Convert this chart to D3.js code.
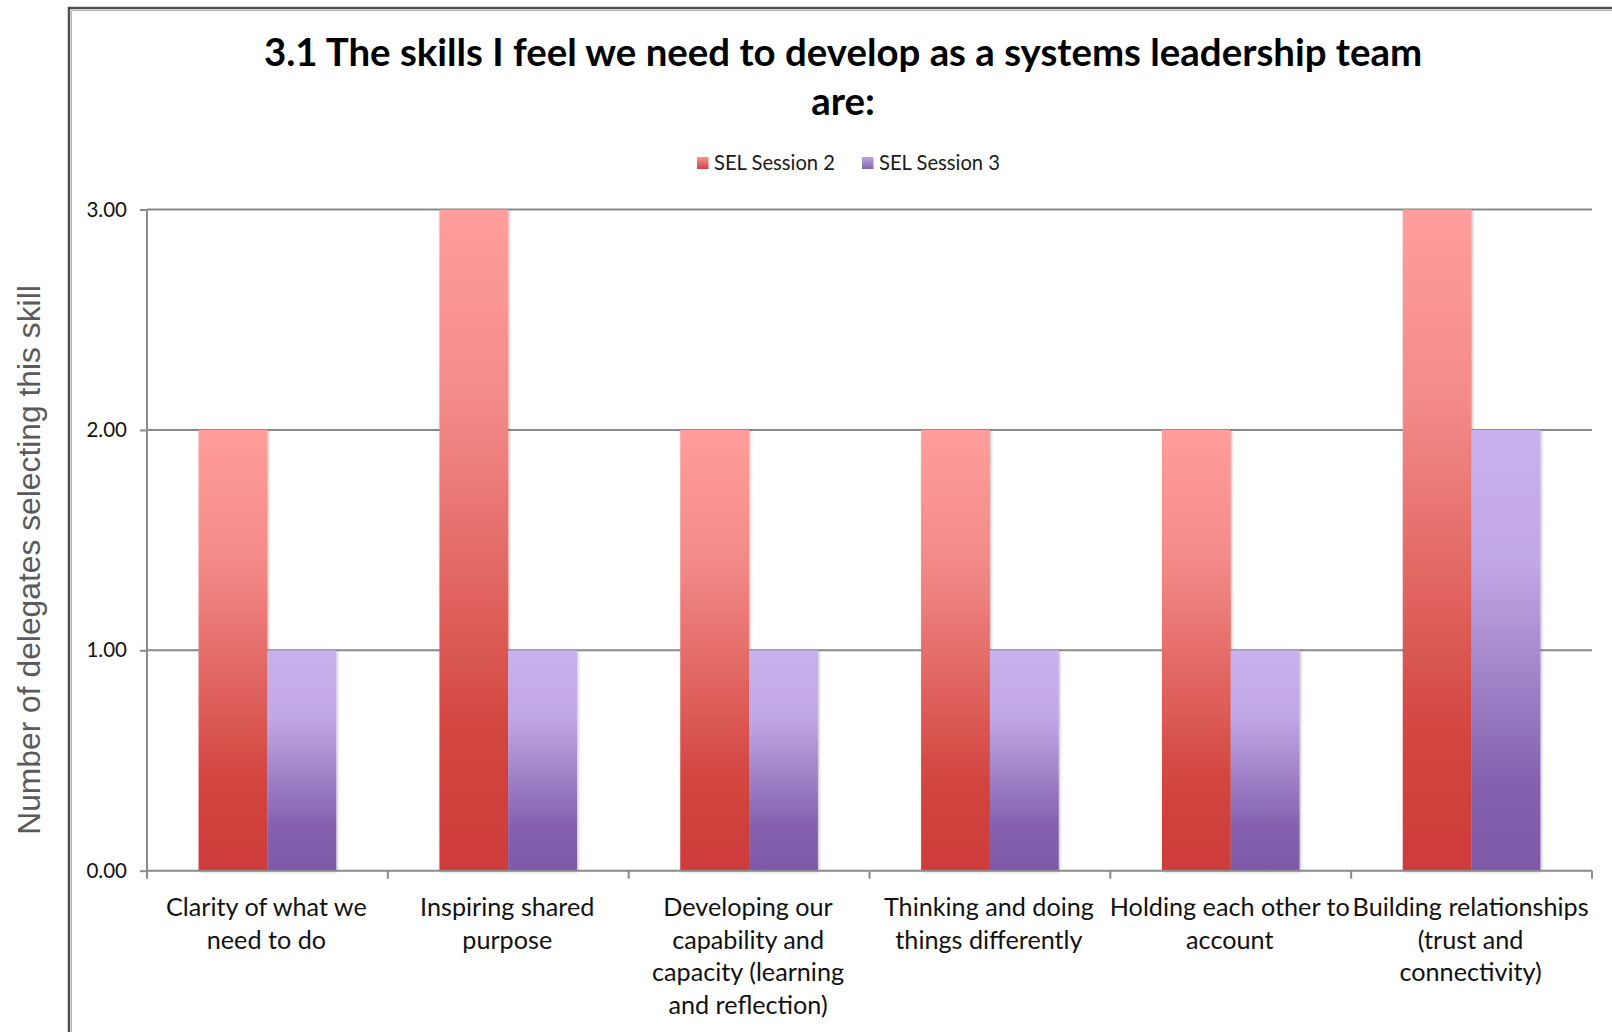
<!DOCTYPE html>
<html>
<head>
<meta charset="utf-8">
<script src="https://cdn.jsdelivr.net/npm/d3@7"></script>
<style>
  html, body { margin: 0; padding: 0; background: #fff; }
  svg { display: block; }
</style>
</head>
<body>
<svg id="chart" width="1612" height="1032"></svg>
<script>
// Skills selected by delegates, per session
const categories = [
  "Clarity of what we\nneed to do",
  "Inspiring shared\npurpose",
  "Developing our\ncapability and\ncapacity (learning\nand reflection)",
  "Thinking and doing\nthings differently",
  "Holding each other to\naccount",
  "Building relationships\n(trust and\nconnectivity)"
];
const seriesNames = ["SEL Session 2", "SEL Session 3"];
const session2 = [2, 3, 2, 2, 2, 3];
const session3 = [1, 1, 1, 1, 1, 2];
const yTicks = [0, 1, 2, 3];
const titleLines = ["3.1 The skills I feel we need to develop as a systems leadership team", "are:"];
const yTitle = "Number of delegates selecting this skill";

const svg = d3.select("#chart");
const W = 1612, H = 1032;
const plot = { left: 147, right: 1592, top: 209.5, bottom: 870.7 };
const FONT = "Lato, 'Open Sans', sans-serif";

// gradients + soft shadow
const defs = svg.append("defs");
const gradStops = {
  "SEL Session 2": [["0", "#ff9e9c"], ["0.3", "#f28a88"], ["0.8", "#d2453f"], ["1", "#cd3c3a"]],
  "SEL Session 3": [["0", "#c8b1ec"], ["0.3", "#c1a8e6"], ["0.8", "#8461ae"], ["1", "#7e59a7"]]
};
const gradId = d => "grad" + seriesNames.indexOf(d);
seriesNames.forEach(s => {
  const g = defs.append("linearGradient").attr("id", gradId(s))
    .attr("x1", 0).attr("y1", 0).attr("x2", 0).attr("y2", 1);
  gradStops[s].forEach(([o, c]) => g.append("stop").attr("offset", o).attr("stop-color", c));
});
const legendSwatch = {
  "SEL Session 2": ["#f79492", "#d04540"],
  "SEL Session 3": ["#bca5e4", "#8565b0"]
};
seriesNames.forEach(s => {
  const g = defs.append("linearGradient").attr("id", gradId(s) + "L")
    .attr("x1", 0).attr("y1", 0).attr("x2", 0).attr("y2", 1);
  g.append("stop").attr("offset", 0).attr("stop-color", legendSwatch[s][0]);
  g.append("stop").attr("offset", 1).attr("stop-color", legendSwatch[s][1]);
});
const f = defs.append("filter").attr("id", "shadow")
  .attr("x", "-20%").attr("y", "-5%").attr("width", "140%").attr("height", "110%");
f.append("feDropShadow").attr("dx", 1).attr("dy", 1).attr("stdDeviation", 1.6)
  .attr("flood-color", "#000").attr("flood-opacity", 0.28);

// chart area frame
svg.append("rect").attr("x", 69).attr("y", 8).attr("width", W).attr("height", H)
  .attr("fill", "#fff").attr("stroke", "#4f4f4f").attr("stroke-width", 2.5);
svg.append("path").attr("d", `M71.5,${H} V10.5 H${W}`)
  .attr("fill", "none").attr("stroke", "#b8b8b8").attr("stroke-width", 1);

// title
svg.append("g").selectAll("text").data(titleLines).join("text")
  .attr("x", 843).attr("y", (d, i) => 66 + i * 49)
  .attr("text-anchor", "middle")
  .attr("font-family", FONT).attr("font-weight", "bold").attr("font-size", 38.4)
  .attr("fill", "#000").text(d => d);

// scales
const x0 = d3.scaleBand().domain(categories).range([plot.left, plot.right]).paddingInner(0).paddingOuter(0);
const x1 = d3.scaleBand().domain(seriesNames)
  .range([0, x0.bandwidth()]).paddingInner(0).paddingOuter(0.75);
const y = d3.scaleLinear().domain([0, 3]).range([plot.bottom, plot.top]);

// gridlines
svg.append("g").selectAll("line").data(yTicks.filter(v => v > 0)).join("line")
  .attr("x1", plot.left).attr("x2", plot.right)
  .attr("y1", d => y(d)).attr("y2", d => y(d))
  .attr("stroke", "#8a8a8a").attr("stroke-width", 2);

// bars
const rows = categories.map((c, i) => ({ c, vals: [session2[i], session3[i]] }));
const groups = svg.append("g").selectAll("g").data(rows).join("g")
  .attr("transform", d => `translate(${x0(d.c)},0)`);
groups.selectAll("rect").data(d => seriesNames.map((s, j) => ({ s, v: d.vals[j] }))).join("rect")
  .attr("x", d => x1(d.s)).attr("width", x1.bandwidth())
  .attr("y", d => y(d.v)).attr("height", d => y(0) - y(d.v))
  .attr("fill", d => `url(#${gradId(d.s)})`)
  .attr("filter", "url(#shadow)");

// y axis
const yAxis = d3.axisLeft(y).tickValues(yTicks).tickFormat(d3.format(".2f"))
  .tickSize(7).tickPadding(13);
const gy = svg.append("g").attr("transform", `translate(${plot.left},0)`).call(yAxis);
gy.select(".domain").attr("stroke", "#8a8a8a").attr("stroke-width", 2)
  .attr("d", `M0,${plot.top}V${plot.bottom}`);
gy.selectAll(".tick line").attr("stroke", "#8a8a8a").attr("stroke-width", 2);
gy.selectAll(".tick text").attr("font-family", FONT).attr("font-size", 20.5).attr("fill", "#111");

// x axis: ticks on category boundaries
const xAxis = d3.axisBottom(x0).tickSize(0).tickFormat("");
const gx = svg.append("g").attr("transform", `translate(0,${plot.bottom})`).call(xAxis);
gx.select(".domain").attr("stroke", "#8a8a8a").attr("stroke-width", 2)
  .attr("d", `M${plot.left},0H${plot.right}`);
const bounds = categories.map(c => x0(c)).concat([plot.right]);
gx.append("g").selectAll("line").data(bounds).join("line")
  .attr("x1", d => d).attr("x2", d => d).attr("y1", 0).attr("y2", 8)
  .attr("stroke", "#8a8a8a").attr("stroke-width", 2);

// category labels
const lab = svg.append("g").selectAll("text").data(categories).join("text")
  .attr("text-anchor", "middle")
  .attr("font-family", FONT).attr("font-size", 25.2).attr("fill", "#111");
lab.each(function (c) {
  const t = d3.select(this);
  c.split("\n").forEach((line, i) => {
    t.append("tspan").attr("x", x0(c) + x0.bandwidth() / 2 - 1)
      .attr("y", 916 + i * 32.5).text(line);
  });
});

// legend
const legendItems = [{ s: seriesNames[0], x: 697 }, { s: seriesNames[1], x: 862 }];
const lg = svg.append("g").selectAll("g").data(legendItems).join("g")
  .attr("transform", d => `translate(${d.x},157)`);
lg.append("rect").attr("width", 11.5).attr("height", 12)
  .attr("fill", d => `url(#${gradId(d.s)}L)`);
lg.append("text").attr("x", 17).attr("y", 12.5)
  .attr("font-family", FONT).attr("font-size", 20.2).attr("fill", "#1a1a1a")
  .text(d => d.s);

// y axis title
svg.append("text")
  .attr("transform", "translate(40,560) rotate(-90)")
  .attr("text-anchor", "middle")
  .attr("font-family", "'Liberation Sans', Arial, sans-serif")
  .attr("font-size", 31.8).attr("fill", "#5a5a5a")
  .text(yTitle);
</script>
</body>
</html>
